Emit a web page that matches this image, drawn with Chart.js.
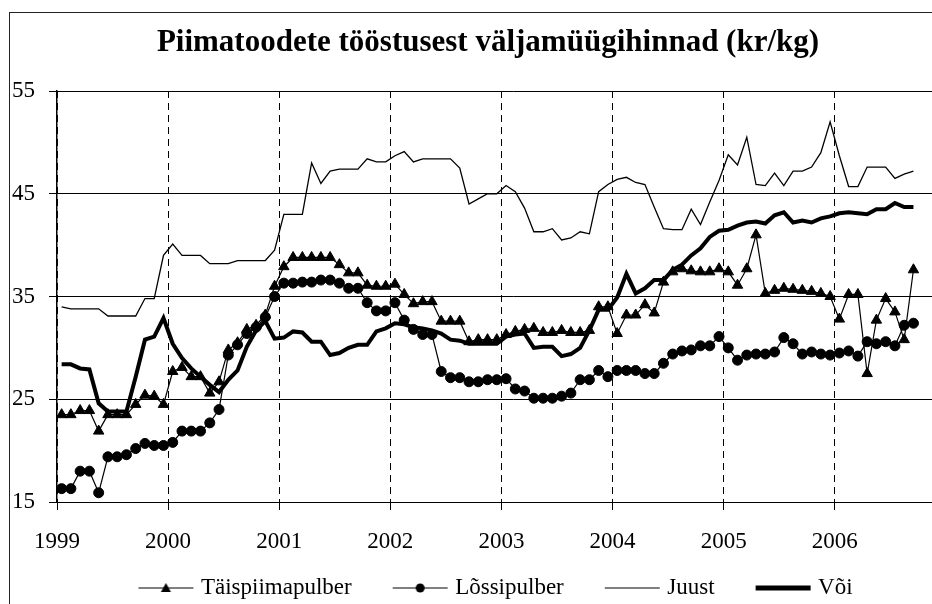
<!DOCTYPE html>
<html>
<head>
<meta charset="utf-8">
<script src="https://cdn.jsdelivr.net/npm/chart.js@4"></script>
<style>
  html, body { margin: 0; padding: 0; overflow: hidden; background: #fff; }
  #wrap { width: 976px; height: 620px; }
</style>
</head>
<body>
<div id="wrap"><canvas id="priceChart" width="976" height="620"></canvas></div>
<script>
// Monthly prices Jan 1999 .. Sep 2006 (kr/kg)
const years = ["1999", "2000", "2001", "2002", "2003", "2004", "2005", "2006"];

const taispiimapulber = [
  23.5, 23.5, 23.9, 23.9, 21.9, 23.5, 23.5, 23.5, 24.5, 25.4, 25.3, 24.5,
  27.7, 28.1, 27.2, 27.2, 25.6, 26.7, 29.8, 30.5, 31.8, 32.2, 33.2, 36.0,
  37.9, 38.8, 38.8, 38.8, 38.8, 38.8, 38.1, 37.3, 37.3, 36.1, 36.0, 36.0,
  36.2, 35.2, 34.3, 34.5, 34.5, 32.6, 32.6, 32.6, 30.6, 30.8, 30.8, 30.8,
  31.3, 31.6, 31.8, 31.9, 31.5, 31.5, 31.7, 31.5, 31.5, 31.7, 34.0, 34.0,
  31.4, 33.2, 33.2, 34.2, 33.4, 36.4, 37.4, 37.7, 37.5, 37.4, 37.4, 37.7,
  37.4, 36.1, 37.7, 41.0, 35.3, 35.6, 35.8, 35.7, 35.6, 35.5, 35.3, 35.0,
  32.8, 35.2, 35.2, 27.5, 32.7, 34.8, 33.5, 30.8, 37.6
];

const lossipulber = [
  16.3, 16.3, 18.0, 18.0, 15.9, 19.4, 19.4, 19.6, 20.2, 20.7, 20.5, 20.5,
  20.8, 21.9, 21.9, 21.9, 22.7, 24.0, 29.3, 30.3, 31.4, 32.0, 33.0, 35.0,
  36.3, 36.3, 36.4, 36.4, 36.6, 36.6, 36.3, 35.8, 35.8, 34.4, 33.6, 33.6,
  34.4, 32.7, 31.8, 31.3, 31.3, 27.7, 27.1, 27.1, 26.7, 26.7, 26.9, 26.9,
  27.0, 26.0, 25.8, 25.1, 25.1, 25.1, 25.3, 25.6, 26.9, 26.9, 27.8, 27.2,
  27.8, 27.8, 27.8, 27.5, 27.5, 28.5, 29.4, 29.7, 29.8, 30.2, 30.2, 31.1,
  30.0, 28.8, 29.3, 29.4, 29.4, 29.6, 31.0, 30.4, 29.4, 29.6, 29.4, 29.3,
  29.5, 29.7, 29.2, 30.6, 30.4, 30.6, 30.2, 32.2, 32.4
];

const juust = [
  34.0, 33.8, 33.8, 33.8, 33.8, 33.1, 33.1, 33.1, 33.1, 34.8, 34.8, 39.0,
  40.1, 39.0, 39.0, 39.0, 38.2, 38.2, 38.2, 38.5, 38.5, 38.5, 38.5, 39.5,
  43.0, 43.0, 43.0, 48.0, 46.0, 47.2, 47.4, 47.4, 47.4, 48.4, 48.1, 48.1,
  48.7, 49.1, 48.1, 48.4, 48.4, 48.4, 48.4, 47.5, 44.0, 44.5, 45.0, 45.0,
  45.8, 45.2, 43.6, 41.3, 41.3, 41.6, 40.5, 40.7, 41.3, 41.1, 45.2, 45.9,
  46.4, 46.6, 46.1, 45.9, 43.7, 41.6, 41.5, 41.5, 43.5, 42.0, 44.2, 46.3,
  48.8, 47.8, 50.5, 45.9, 45.8, 47.0, 45.8, 47.2, 47.2, 47.6, 49.0, 52.0,
  48.7, 45.7, 45.7, 47.6, 47.6, 47.6, 46.5, 46.9, 47.2
];

const voi = [
  28.4, 28.4, 28.0, 27.9, 24.6, 23.8, 23.8, 23.8, 27.2, 30.8, 31.1, 32.9,
  30.4, 29.0, 28.0, 27.2, 26.4, 25.7, 26.9, 27.8, 30.1, 31.7, 32.6, 30.9,
  31.0, 31.6, 31.5, 30.6, 30.6, 29.3, 29.5, 30.0, 30.3, 30.3, 31.6, 31.9,
  32.4, 32.3, 32.0, 31.9, 31.7, 31.4, 30.8, 30.7, 30.4, 30.4, 30.4, 30.4,
  31.1, 31.3, 31.4, 30.0, 30.1, 30.1, 29.2, 29.4, 30.0, 31.7, 33.7, 33.7,
  34.9, 37.2, 35.3, 35.8, 36.6, 36.6, 37.6, 38.1, 39.0, 39.7, 40.8, 41.4,
  41.5, 41.9, 42.2, 42.3, 42.1, 42.9, 43.2, 42.2, 42.4, 42.2, 42.6, 42.8,
  43.1, 43.2, 43.1, 43.0, 43.5, 43.5, 44.1, 43.7, 43.7
];

const yTicks = [15, 25, 35, 45, 55];

// each value sits in the middle of its month on a month-count axis
function toPoints(values) {
  return values.map((v, i) => ({ x: i + 0.5, y: v }));
}

const serif = "'Liberation Serif', 'Times New Roman', serif";

// legend icons: line with marker, like the original
// (the blank left part of the icon gives the gap between legend items)
function legendIcon(lineWidth, marker) {
  const c = document.createElement("canvas");
  c.width = 76;
  c.height = 16;
  const g = c.getContext("2d");
  g.strokeStyle = "#000";
  g.fillStyle = "#000";
  g.lineWidth = lineWidth;
  g.beginPath();
  g.moveTo(20, 8);
  g.lineTo(75, 8);
  g.stroke();
  if (marker === "triangle") {
    g.beginPath();
    g.moveTo(47.5, 3);
    g.lineTo(52.5, 12);
    g.lineTo(42.5, 12);
    g.closePath();
    g.fill();
  } else if (marker === "circle") {
    g.beginPath();
    g.arc(47.5, 8, 4.5, 0, Math.PI * 2);
    g.fill();
  }
  return c;
}

const legendIcons = [legendIcon(1, "triangle"), legendIcon(1, "circle"), legendIcon(1, null), legendIcon(5, null)];

const frame = {
  id: "frame",
  beforeDraw(chart) {
    const ctx = chart.ctx;
    ctx.save();
    ctx.fillStyle = "#fff";
    ctx.fillRect(0, 0, chart.width, chart.height);
    ctx.strokeStyle = "#222";
    ctx.lineWidth = 1;
    ctx.strokeRect(9.5, 12.5, chart.width + 50, chart.height + 50);
    ctx.restore();
  },
};

const priceChart = new Chart(document.getElementById("priceChart"), {
  type: "line",
  data: {
    datasets: [
      {
        label: "Täispiimapulber",
        data: toPoints(taispiimapulber),
        borderColor: "#000",
        backgroundColor: "#000",
        borderWidth: 1.2,
        pointStyle: "triangle",
        pointRadius: 6,
        pointBorderWidth: 1,
      },
      {
        label: "Lõssipulber",
        data: toPoints(lossipulber),
        borderColor: "#000",
        backgroundColor: "#000",
        borderWidth: 1.2,
        pointStyle: "circle",
        pointRadius: 5,
        pointBorderWidth: 1,
      },
      {
        label: "Juust",
        data: toPoints(juust),
        borderColor: "#000",
        backgroundColor: "#000",
        borderWidth: 1.3,
        pointRadius: 0,
      },
      {
        label: "Või",
        data: toPoints(voi),
        borderColor: "#000",
        backgroundColor: "#000",
        borderWidth: 4,
        pointRadius: 0,
      },
    ],
  },
  options: {
    responsive: false,
    animation: false,
    events: [],
    layout: { padding: { left: 0, right: 0, top: 17, bottom: 10.5 } },
    elements: { line: { tension: 0 } },
    plugins: {
      title: {
        display: true,
        text: "Piimatoodete tööstusest väljamüügihinnad (kr/kg)",
        color: "#000",
        font: { family: serif, size: 31, weight: "bold" },
        padding: { top: 7.4, bottom: 29.4 },
      },
      legend: {
        position: "bottom",
        labels: {
          color: "#000",
          font: { family: serif, size: 23 },
          usePointStyle: true,
          pointStyleWidth: 66,
          padding: 26,
          generateLabels: (chart) =>
            Chart.defaults.plugins.legend.labels.generateLabels(chart).map((item, i) => ({
              ...item,
              pointStyle: legendIcons[i],
            })),
        },
      },
      tooltip: { enabled: false },
    },
    scales: {
      x: {
        type: "linear",
        min: 0,
        max: 98.5,
        afterBuildTicks: (scale) => {
          scale.ticks = years.map((y, i) => ({ value: i * 12 }));
        },
        afterFit: (scale) => {
          scale.height = 48.5;
        },
        ticks: {
          color: "#000",
          font: { family: serif, size: 23 },
          padding: 18,
          maxRotation: 0,
          autoSkip: false,
          callback: (value) => years[value / 12],
        },
        grid: {
          color: "#000",
          lineWidth: 1,
          tickLength: 8,
          tickColor: "#000",
          tickBorderDash: [],
        },
        border: { color: "#000", width: 1, dash: [7, 5] },
      },
      y: {
        min: 15,
        max: 55,
        afterBuildTicks: (scale) => {
          scale.ticks = yTicks.map((v) => ({ value: v }));
        },
        afterFit: (scale) => {
          scale.width = 57;
        },
        ticks: {
          color: "#000",
          font: { family: serif, size: 23 },
          padding: 14,
        },
        grid: { color: "#000", lineWidth: 1, tickLength: 8 },
        border: { color: "#000", width: 1.5 },
      },
    },
  },
  plugins: [frame],
});
</script>
</body>
</html>
